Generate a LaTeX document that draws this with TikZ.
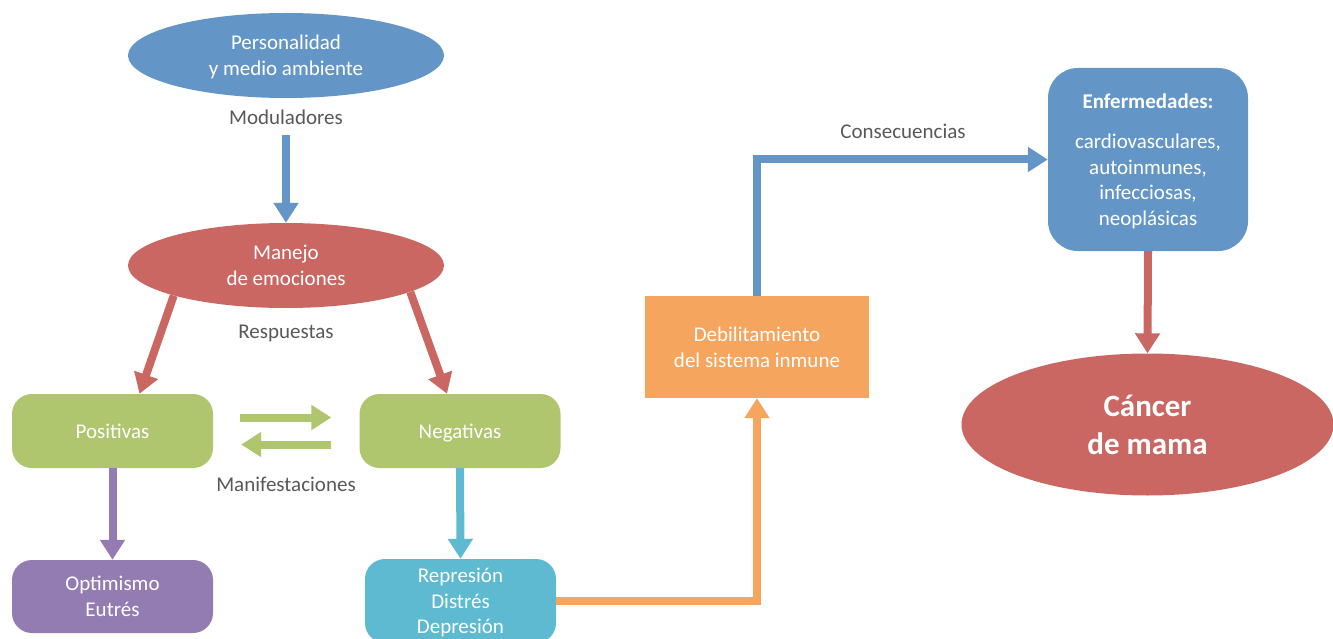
\documentclass[tikz,border=0pt]{standalone}
\usepackage{fontspec}
\setmainfont{Carlito}
\usetikzlibrary{shapes.geometric,arrows.meta,calc}
\definecolor{cblue}{HTML}{6396C6}
\definecolor{cred}{HTML}{CA6762}
\definecolor{cgreen}{HTML}{AFC56E}
\definecolor{cpurple}{HTML}{937CB2}
\definecolor{ccyan}{HTML}{5EBAD0}
\definecolor{corange}{HTML}{F6A55E}
\definecolor{cgray}{HTML}{595959}
\begin{document}
\begin{tikzpicture}[x=1pt,y=-1pt,
  txt/.style={font=\fontsize{21}{25.6}\selectfont, text=white, align=center, inner sep=0pt, text depth=0pt},
  oval/.style={txt, ellipse, minimum width=316pt, minimum height=85pt},
  rbox/.style={txt, rectangle, rounded corners=20pt, minimum width=201pt, minimum height=74pt},
  lbl/.style={font=\fontsize{21}{25.6}\selectfont, text=cgray, inner sep=0pt},
  arr/.style={line width=8pt, -{Triangle[width=24pt,length=20pt]}}
]
\useasboundingbox (0,0) rectangle (1333,639);
\fill[white] (0,0) rectangle (1333,639);

\node[oval, fill=cblue] (per) at (286,55.5) {Personalidad\\y medio ambiente};
\node[lbl] (mod) at (286,117) {Moduladores};
\coordinate (modtail) at (286,135);
\node[oval, fill=cred] (man) at (286,265.5) {Manejo\\de emociones};
\node[lbl] (resp) at (286,333) {Respuestas};
\node[rbox, fill=cgreen] (pos) at (112.5,431) {Positivas};
\node[rbox, fill=cgreen] (neg) at (460,431) {Negativas};
\node[lbl] (manif) at (286,484) {Manifestaciones};
\node[rbox, fill=cpurple, minimum height=73pt] (opt) at (112.5,596.5) {Optimismo\\Eutrés};
\node[rbox, fill=ccyan, minimum width=191pt, minimum height=84pt] (rep) at (460.5,601) {Represión\\Distrés\\Depresión};
\node[txt, rectangle, fill=corange, minimum width=224pt, minimum height=102pt] (deb) at (757,347) {Debilitamiento\\del sistema inmune};
\node[lbl] (cons) at (903,131) {Consecuencias};
\node[txt, rectangle, rounded corners=30pt, fill=cblue, minimum width=200pt, minimum height=183pt, font=\fontsize{21}{25.7}\selectfont] (enf) at (1148,159.5) {\textbf{Enfermedades:}\\[14.3pt]cardiovasculares,\\autoinmunes,\\infecciosas,\\neoplásicas};
\node[txt, ellipse, fill=cred, minimum width=372pt, minimum height=142pt, font=\bfseries\fontsize{31}{38}\selectfont] (can) at (1147.5,424.5) {Cáncer\\de mama};

\draw[arr, cblue] (modtail) -- (man.north);
\draw[arr, cred] (man.195) -- ([xshift=27pt]pos.north);
\draw[arr, cred] (man.348) -- ([xshift=-13pt]neg.north);
\draw[arr, cgreen] ([xshift=27pt,yshift=13.5pt]pos.east) -- ([xshift=-28pt,yshift=13.5pt]neg.west);
\draw[arr, cgreen] ([xshift=-28pt,yshift=-13.5pt]neg.west) -- ([xshift=28pt,yshift=-13.5pt]pos.east);
\draw[arr, cpurple] (pos.south) -- (opt.north);
\draw[arr, ccyan] (neg.south) -- (rep.north);
\draw[arr, corange] (rep.east) -| (deb.south);
\draw[arr, cblue] (deb.north) |- (enf.west);
\draw[arr, cred] (enf.south) -- (can.north);
\end{tikzpicture}
\end{document}
